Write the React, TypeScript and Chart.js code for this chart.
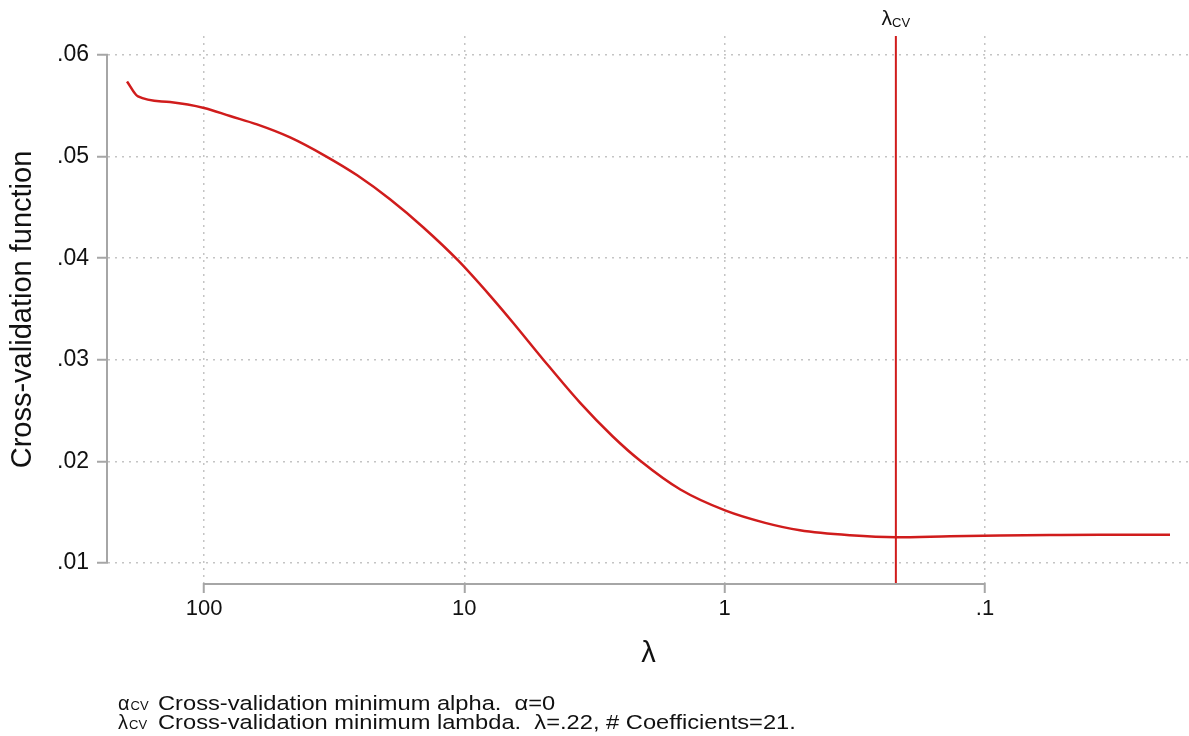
import React, { useEffect, useRef } from 'react';
import { Chart, registerables } from 'chart.js';

Chart.register(...registerables);

// ---- data ----
const lambdaValues = [197.6, 179.3, 135.1, 100, 79.45, 62.6, 46.7, 34.0, 25.8, 19.3, 14.4, 10.57, 7.97, 6.5, 4.99, 3.59, 2.69, 2.11, 1.48, 0.991, 0.699, 0.514, 0.33, 0.2197, 0.1363, 0.0876, 0.0563, 0.0361, 0.01947];
const cvValues = [0.0574, 0.05592, 0.05537, 0.05479, 0.05399, 0.05317, 0.05189, 0.05003, 0.04816, 0.0458, 0.04305, 0.03978, 0.03632, 0.03365, 0.03006, 0.02576, 0.02245, 0.02006, 0.01723, 0.01515, 0.01395, 0.01322, 0.01273, 0.012535, 0.01263, 0.0127, 0.01275, 0.01278, 0.01278];
const lambdaCV = 0.22;

const xTicks = [100, 10, 1, 0.1];
const xTickLabels = ['100', '10', '1', '.1'];
const yTicks = [0.01, 0.02, 0.03, 0.04, 0.05, 0.06];
const yTickLabels = ['.01', '.02', '.03', '.04', '.05', '.06'];

const X_MIN = 0.01646;
const X_MAX = 233.8;
const Y_MIN = 0.00803;
const Y_MAX = 0.06187;

const FONT = "'Liberation Sans', Arial, sans-serif";
const RED = '#d01c1c';
const GRID = '#c4c4c4';
const AXIS = '#a6a6a6';

const axisPlugin = {
  id: 'stataAxes',
  afterDraw(chart: any) {
    const { ctx, chartArea, scales } = chart;
    const xs = scales.x;
    const ys = scales.y;
    ctx.save();
    ctx.strokeStyle = AXIS;
    ctx.lineWidth = 2;
    ctx.setLineDash([]);
    // y axis line between first and last tick
    ctx.beginPath();
    ctx.moveTo(chartArea.left - 1, ys.getPixelForValue(yTicks[yTicks.length - 1]));
    ctx.lineTo(chartArea.left - 1, ys.getPixelForValue(yTicks[0]));
    ctx.stroke();
    // x axis line between first and last tick
    ctx.beginPath();
    ctx.moveTo(xs.getPixelForValue(xTicks[0]), chartArea.bottom + 1);
    ctx.lineTo(xs.getPixelForValue(xTicks[xTicks.length - 1]), chartArea.bottom + 1);
    ctx.stroke();

    // lambda_CV label above the vertical line
    const lx = xs.getPixelForValue(lambdaCV);
    ctx.fillStyle = '#111';
    ctx.textBaseline = 'alphabetic';
    ctx.font = `21px ${FONT}`;
    const wL = ctx.measureText('λ').width;
    ctx.font = `13px ${FONT}`;
    const wS = ctx.measureText('CV').width;
    const start = lx - (wL + wS) / 2;
    ctx.font = `21px ${FONT}`;
    ctx.textAlign = 'left';
    ctx.fillText('λ', start, 25);
    ctx.font = `13px ${FONT}`;
    ctx.fillText('CV', start + wL, 27);

    // footnotes
    const notes = [
      { sym: 'α', text: 'Cross-validation minimum alpha.  α=0', y: 710 },
      { sym: 'λ', text: 'Cross-validation minimum lambda.  λ=.22, # Coefficients=21.', y: 729 },
    ];
    notes.forEach((n) => {
      ctx.font = `20px ${FONT}`;
      ctx.fillText(n.sym, 118, n.y);
      const w = ctx.measureText(n.sym).width;
      ctx.font = `13px ${FONT}`;
      ctx.fillText('CV', 118 + w + 1, n.y);
      ctx.save();
      ctx.translate(158, n.y);
      ctx.scale(1.155, 1);
      ctx.font = `20.5px ${FONT}`;
      ctx.fillText(n.text, 0, 0);
      ctx.restore();
    });
    ctx.restore();
  },
};

export default function App() {
  const ref = useRef<HTMLCanvasElement | null>(null);
  useEffect(() => {
    if (!ref.current) return;
    const chart = new Chart(ref.current, {
      type: 'line',
      data: {
        datasets: [
          {
            data: lambdaValues.map((l, i) => ({ x: l, y: cvValues[i] })),
            borderColor: RED,
            borderWidth: 2.5,
            pointRadius: 0,
            fill: false,
            cubicInterpolationMode: 'monotone',
          },
          {
            data: [
              { x: lambdaCV, y: Y_MIN },
              { x: lambdaCV, y: Y_MAX },
            ],
            borderColor: RED,
            borderWidth: 2,
            pointRadius: 0,
            fill: false,
          },
        ],
      } as any,
      options: {
        responsive: false,
        animation: false,
        layout: { padding: { top: 36, right: 0, bottom: 53, left: 0 } },
        plugins: { legend: { display: false }, tooltip: { enabled: false } },
        scales: {
          x: {
            type: 'logarithmic',
            reverse: true,
            min: X_MIN,
            max: X_MAX,
            afterBuildTicks: (s: any) => {
              s.ticks = xTicks.map((v) => ({ value: v }));
            },
            afterFit: (s: any) => {
              s.height = 100;
            },
            ticks: {
              callback: (_v: any, i: number) => xTickLabels[i],
              font: { family: FONT, size: 22 },
              color: '#111',
              padding: 3,
              maxRotation: 0,
              autoSkip: false,
            },
            grid: {
              color: GRID,
              lineWidth: 1.5,
              tickLength: 10,
              tickColor: AXIS,
              tickWidth: 2,
              tickBorderDash: [],
            },
            border: { display: false, dash: [2, 5] },
            title: {
              display: true,
              text: 'λ',
              font: { family: FONT, size: 29 },
              color: '#111',
              padding: { top: 0, bottom: 12 },
            },
          },
          y: {
            type: 'linear',
            min: Y_MIN,
            max: Y_MAX,
            afterBuildTicks: (s: any) => {
              s.ticks = yTicks.map((v) => ({ value: v }));
            },
            afterFit: (s: any) => {
              s.width = 108;
            },
            ticks: {
              callback: (_v: any, i: number) => yTickLabels[i],
              font: { family: FONT, size: 23 },
              color: '#111',
              padding: 8,
            },
            grid: {
              color: GRID,
              lineWidth: 1.5,
              tickLength: 11,
              tickColor: AXIS,
              tickWidth: 2,
              tickBorderDash: [],
            },
            border: { display: false, dash: [2, 5] },
            title: {
              display: true,
              text: 'Cross-validation function',
              font: { family: FONT, size: 29 },
              color: '#111',
              padding: { top: 6, bottom: 0 },
            },
          },
        },
      } as any,
      plugins: [axisPlugin],
    });
    return () => chart.destroy();
  }, []);
  return (
    <div style={{ position: 'absolute', left: 0, top: 0, width: 1189, height: 736, background: '#fff' }}>
      <canvas ref={ref} width={1189} height={736} style={{ display: 'block' }} />
    </div>
  );
}
